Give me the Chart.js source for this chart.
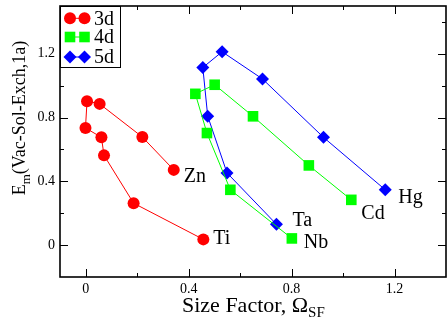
<!DOCTYPE html>
<html>
<head>
<meta charset="utf-8">
<script src="https://cdn.jsdelivr.net/npm/chart.js@4/dist/chart.umd.min.js"></script>
<style>
  html, body { margin: 0; padding: 0; background: #fff; }
  canvas { display: block; }
</style>
</head>
<body>
<canvas id="myChart" width="447" height="320"></canvas>
<script>
// series values (size factor, migration energy)
var x3d = [0.457, 0.186, 0.071, 0.061, -0.001, 0.005, 0.054, 0.220, 0.342];
var y3d = [0.036, 0.263, 0.563, 0.676, 0.735, 0.903, 0.886, 0.678, 0.472];
var x4d = [0.801, 0.562, 0.471, 0.426, 0.501, 0.650, 0.867, 1.032];
var y4d = [0.042, 0.347, 0.703, 0.949, 1.006, 0.808, 0.500, 0.284];
var x5d = [0.741, 0.549, 0.474, 0.455, 0.530, 0.687, 0.924, 1.164];
var y5d = [0.131, 0.453, 0.809, 1.114, 1.213, 1.042, 0.676, 0.347];

var seriesNames = ['3d', '4d', '5d'];
var xTicks = [0, 0.4, 0.8, 1.2];
var yTicks = [0, 0.4, 0.8, 1.2];
var xMinor = [0.2, 0.6, 1.0];
var yMinor = [0.2, 0.6, 1.0, 1.4];

// element names at the end of each series
var endLabels = [
    { text: 'Ti', ds: 0, idx: 0, dx: 10, dy: -1 },
    { text: 'Zn', ds: 0, idx: 8, dx: 10, dy: 7 },
    { text: 'Nb', ds: 1, idx: 0, dx: 12, dy: 4 },
    { text: 'Cd', ds: 1, idx: 7, dx: 10, dy: 14 },
    { text: 'Ta', ds: 2, idx: 0, dx: 16, dy: -3 },
    { text: 'Hg', ds: 2, idx: 7, dx: 13, dy: 8 }
];

var serif = '"Liberation Serif", "DejaVu Serif", serif';
var colors = ['#ff0000', '#00ff00', '#0000ff'];
var styles = ['circle', 'rect', 'rectRot'];
var radii = [6, 7.5, 6.5];

function pts(xs, ys) {
    return xs.map(function (x, i) { return { x: x, y: ys[i] }; });
}

var datasets = [pts(x3d, y3d), pts(x4d, y4d), pts(x5d, y5d)].map(function (d, i) {
    return {
        label: seriesNames[i],
        data: d,
        showLine: true,
        borderColor: colors[i],
        backgroundColor: colors[i],
        borderWidth: 1,
        pointStyle: styles[i],
        pointRadius: radii[i],
        pointBorderWidth: 0,
        pointBackgroundColor: colors[i],
        tension: 0
    };
});

function widths(ctx, main, sub, size, subSize) {
    ctx.font = size + 'px ' + serif;
    var w = ctx.measureText(main).width;
    ctx.font = subSize + 'px ' + serif;
    var ws = ctx.measureText(sub).width;
    return { w: w, ws: ws };
}

function noPad(s) {
    s.paddingLeft = 0; s.paddingRight = 0; s.paddingTop = 0; s.paddingBottom = 0;
}

var decorations = {
    id: 'decorations',
    afterDraw: function (chart) {
        var ctx = chart.ctx;
        var a = chart.chartArea;
        var xs = chart.scales.x, ys = chart.scales.y;
        ctx.save();
        ctx.strokeStyle = '#000';
        ctx.fillStyle = '#000';

        // inward ticks on all four sides
        ctx.lineWidth = 1;
        function vtick(v, len) {
            var px = Math.round(xs.getPixelForValue(v)) + 0.5;
            ctx.beginPath();
            ctx.moveTo(px, a.bottom); ctx.lineTo(px, a.bottom - len);
            ctx.moveTo(px, a.top); ctx.lineTo(px, a.top + len);
            ctx.stroke();
        }
        function htick(v, len) {
            var py = Math.round(ys.getPixelForValue(v)) + 0.5;
            ctx.beginPath();
            ctx.moveTo(a.left, py); ctx.lineTo(a.left + len, py);
            ctx.moveTo(a.right, py); ctx.lineTo(a.right - len, py);
            ctx.stroke();
        }
        xTicks.forEach(function (v) { vtick(v, 8); });
        xMinor.forEach(function (v) { vtick(v, 4); });
        yTicks.forEach(function (v) { htick(v, 8); });
        yMinor.forEach(function (v) { htick(v, 4); });

        // frame
        ctx.lineWidth = 1.6;
        ctx.strokeRect(a.left, a.top, a.right - a.left, a.bottom - a.top);

        // end labels
        ctx.font = '20px ' + serif;
        ctx.textAlign = 'left';
        ctx.textBaseline = 'middle';
        endLabels.forEach(function (l) {
            var p = chart.getDatasetMeta(l.ds).data[l.idx];
            ctx.fillText(l.text, p.x + l.dx, p.y + l.dy);
        });

        // legend
        ctx.fillStyle = '#fff';
        ctx.fillRect(a.left, a.top, 60, 61);
        ctx.lineWidth = 1;
        ctx.strokeStyle = '#000';
        ctx.strokeRect(a.left + 0.5, a.top + 0.5, 60, 61);
        var rows = [18.3, 37, 57];
        datasets.forEach(function (d, i) {
            var y = rows[i];
            ctx.strokeStyle = colors[i];
            ctx.beginPath();
            ctx.moveTo(70, y); ctx.lineTo(84, y);
            ctx.stroke();
            ctx.fillStyle = colors[i];
            Chart.helpers.drawPoint(ctx, { pointStyle: styles[i], radius: radii[i], borderWidth: 0 }, 70, y);
            Chart.helpers.drawPoint(ctx, { pointStyle: styles[i], radius: radii[i], borderWidth: 0 }, 84.5, y);
            ctx.fillStyle = '#000';
            ctx.font = '20px ' + serif;
            ctx.textBaseline = 'middle';
            ctx.fillText(d.label, 94, y + 1);
        });

        // x axis title with subscript
        ctx.fillStyle = '#000';
        ctx.textBaseline = 'alphabetic';
        var m = widths(ctx, 'Size Factor, \u03a9', 'SF', 22, 15);
        var cx = 182;
        ctx.font = '22px ' + serif;
        ctx.fillText('Size Factor, \u03a9', cx, 312);
        ctx.font = '15px ' + serif;
        ctx.fillText('SF', cx + m.w, 317);

        // y axis title with subscript, rotated
        ctx.save();
        ctx.translate(25, 118);
        ctx.rotate(-Math.PI / 2);
        var mE = widths(ctx, 'E', 'm', 18, 13);
        ctx.font = '18px ' + serif;
        var rest = '(Vac-Sol-Exch,1a)';
        var wr = ctx.measureText(rest).width;
        var total = mE.w + mE.ws + wr;
        var sx = -total / 2;
        ctx.fillText('E', sx, 0);
        ctx.font = '13px ' + serif;
        ctx.fillText('m', sx + mE.w, 5);
        ctx.font = '18px ' + serif;
        ctx.fillText(rest, sx + mE.w + mE.ws, 0);
        ctx.restore();

        ctx.restore();
    }
};

var ctxChart = document.getElementById('myChart').getContext('2d');
var myChart = new Chart(ctxChart, {
    type: 'scatter',
    data: { datasets: datasets },
    options: {
        responsive: false,
        animation: false,
        devicePixelRatio: 1,
        layout: { autoPadding: false, padding: { top: 6, right: 1, left: 0, bottom: 0 } },
        plugins: {
            legend: { display: false },
            tooltip: { enabled: false }
        },
        scales: {
            x: {
                type: 'linear',
                min: -0.1,
                max: 1.4,
                afterFit: function (s) { s.height = 43; noPad(s); },
                afterBuildTicks: function (s) { s.ticks = xTicks.map(function (v) { return { value: v }; }); },
                grid: { display: false, drawTicks: false },
                border: { display: false },
                ticks: {
                    padding: 4,
                    color: '#000',
                    font: { family: serif, size: 14 },
                    callback: function (v) { return v === 0 ? '0' : v.toFixed(1); }
                }
            },
            y: {
                type: 'linear',
                min: -0.2,
                max: 1.5,
                afterFit: function (s) { s.width = 60; noPad(s); },
                afterBuildTicks: function (s) { s.ticks = yTicks.map(function (v) { return { value: v }; }); },
                grid: { display: false, drawTicks: false },
                border: { display: false },
                ticks: {
                    padding: 5,
                    color: '#000',
                    font: { family: serif, size: 14 },
                    callback: function (v) { return v === 0 ? '0' : v.toFixed(1); }
                }
            }
        }
    },
    plugins: [decorations]
});
</script>
</body>
</html>
